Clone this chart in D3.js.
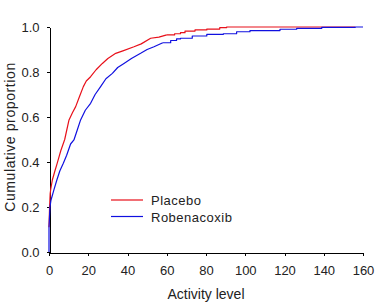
<!DOCTYPE html>
<html>
<head>
<meta charset="utf-8">
<script src="https://cdn.jsdelivr.net/npm/d3@7"></script>
<style>
  body { margin: 0; background: #fff; }
  text { font-family: "Liberation Sans", Arial, sans-serif; fill: #222; }
</style>
</head>
<body>
<svg id="chart"></svg>
<script>
// Placebo ECDF (activity level, cumulative proportion)
const placeboX = [0, 0.3, 0.6, 0.9, 1.7, 3, 4.2, 6, 8, 9, 10.2, 12, 13.6, 15.5, 17.5, 19, 21.2, 24, 27.2, 30, 34, 38, 43.3, 47, 51.8, 56, 60, 64, 67, 69.3, 74.4, 80.4, 87, 90.5, 156];
const placeboP = [0.11, 0.2, 0.26, 0.28, 0.32, 0.36, 0.395, 0.45, 0.5, 0.54, 0.587, 0.62, 0.646, 0.69, 0.735, 0.76, 0.779, 0.81, 0.838, 0.86, 0.883, 0.895, 0.912, 0.925, 0.95, 0.955, 0.965, 0.97, 0.975, 0.982, 0.987, 0.991, 0.997, 1.0, 1.0];

// Robenacoxib ECDF
const robenX = [0, 0, 0.5, 1, 2.5, 4, 5.5, 7.3, 9, 11, 12.7, 14.4, 16.1, 18.5, 21.2, 23.5, 26.3, 29, 32.3, 35, 38.2, 42, 46.7, 50, 53.5, 58, 62, 65, 67, 73, 80.4, 88.8, 95.6, 102.4, 117.7, 126.2, 139, 156, 160];
const robenP = [0, 0.11, 0.2, 0.23, 0.276, 0.32, 0.36, 0.394, 0.43, 0.48, 0.498, 0.542, 0.587, 0.63, 0.661, 0.7, 0.735, 0.77, 0.794, 0.82, 0.838, 0.86, 0.883, 0.9, 0.912, 0.93, 0.94, 0.947, 0.95, 0.96, 0.967, 0.97, 0.979, 0.984, 0.99, 0.994, 0.998, 1.0, 1.0];

const xTicks = [0, 20, 40, 60, 80, 100, 120, 140, 160];
const yTicks = [0, 0.2, 0.4, 0.6, 0.8, 1.0];

const series = [
  { name: "Placebo", color: "#e8101a", xs: placeboX, ps: placeboP },
  { name: "Robenacoxib", color: "#1010e0", xs: robenX, ps: robenP },
];

const width = 389;
const height = 307;

const svg = d3.select("#chart").attr("width", width).attr("height", height);

// Scales
const xScale = d3.scaleLinear().domain([0, 160]).range([49, 363]);
const yScale = d3.scaleLinear().domain([0, 1]).range([252, 27]);

// Axes
const xAxis = svg
  .append("g")
  .attr("transform", "translate(0,252.5)")
  .call(d3.axisBottom(xScale).tickValues(xTicks).tickSize(3).tickSizeOuter(0).tickPadding(10));

const yAxis = svg
  .append("g")
  .attr("transform", "translate(49.5,0)")
  .call(d3.axisLeft(yScale).tickValues(yTicks).tickSize(3).tickSizeOuter(0).tickPadding(7).tickFormat(d3.format(".1f")));

[xAxis, yAxis].forEach((g) => {
  g.selectAll("path, line").attr("stroke", "#000").attr("shape-rendering", "crispEdges");
  g.selectAll("text").attr("font-size", "13px").attr("fill", "#222")
    .attr("font-family", '"Liberation Sans", Arial, sans-serif');
});

// Curves: dense part drawn straight, sparse tail drawn as steps
const smoothLine = d3
  .line()
  .x((d) => xScale(d[0]))
  .y((d) => yScale(d[1]));

const stepLine = d3
  .line()
  .x((d) => xScale(d[0]))
  .y((d) => yScale(d[1]))
  .curve(d3.curveStepAfter);

series.forEach((s) => {
  const pts = s.xs.map((x, i) => [x, s.ps[i]]);
  const head = pts.filter((d) => d[0] <= 60);
  const tail = pts.filter((d) => d[0] >= head[head.length - 1][0]);
  [[head, smoothLine], [tail, stepLine]].forEach(([data, gen]) => {
    svg
      .append("path")
      .datum(data)
      .attr("fill", "none")
      .attr("stroke", s.color)
      .attr("stroke-width", 1.2)
      .attr("stroke-linejoin", "round")
      .attr("d", gen);
  });
});

// Axis titles
svg
  .append("text")
  .attr("x", 206)
  .attr("y", 298.5)
  .attr("text-anchor", "middle")
  .attr("font-size", "14px")
  .text("Activity level");

svg
  .append("text")
  .attr("transform", "translate(14.5,137) rotate(-90)")
  .attr("text-anchor", "middle")
  .attr("font-size", "14px")
  .attr("letter-spacing", "0.6px")
  .text("Cumulative proportion");

// Legend
const legend = svg
  .selectAll(".legend")
  .data(series)
  .enter()
  .append("g")
  .attr("class", "legend")
  .attr("transform", (d, i) => `translate(0,${200 + i * 16.5})`);

legend
  .append("line")
  .attr("x1", 111)
  .attr("x2", 143)
  .attr("stroke", (d) => d.color)
  .attr("stroke-width", 1.2);

legend
  .append("text")
  .attr("x", 151)
  .attr("y", 5)
  .attr("font-size", "13px")
  .attr("letter-spacing", "0.5px")
  .text((d) => d.name);
</script>
</body>
</html>
